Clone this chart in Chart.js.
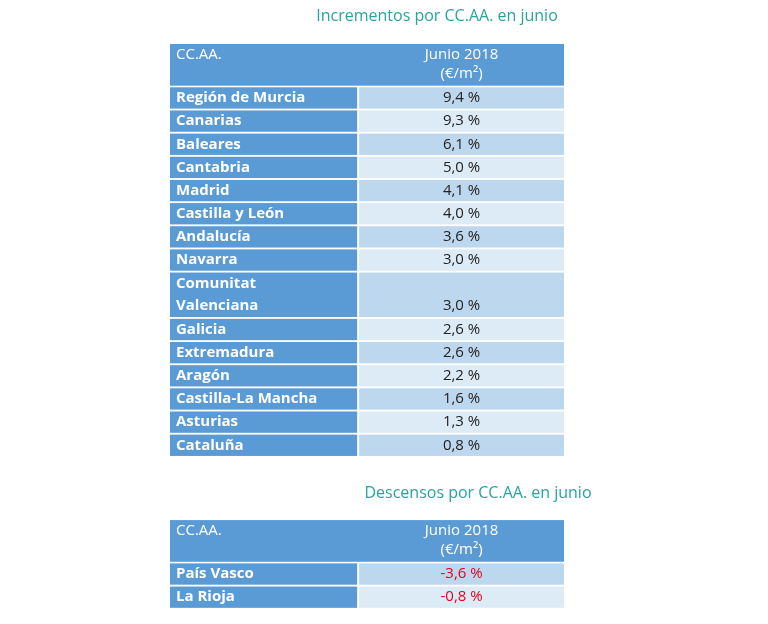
<!DOCTYPE html>
<html><head><meta charset="utf-8">
<script src="https://cdn.jsdelivr.net/npm/chart.js"></script>
<style>html,body{margin:0;padding:0;background:#fff}#wrap{width:768px;height:624px}</style>
</head><body><div id="wrap"><canvas id="c"></canvas></div>
<script>
const title1 = "Incrementos por CC.AA. en junio";
const title2 = "Descensos por CC.AA. en junio";
const headerName = "CC.AA.";
const headerValue = ["Junio 2018", "(€/m²)"];
const incNames = [["Región de Murcia"],["Canarias"],["Baleares"],["Cantabria"],["Madrid"],["Castilla y León"],["Andalucía"],["Navarra"],["Comunitat","Valenciana"],["Galicia"],["Extremadura"],["Aragón"],["Castilla-La Mancha"],["Asturias"],["Cataluña"]];
const incValues = [9.4,9.3,6.1,5.0,4.1,4.0,3.6,3.0,3.0,2.6,2.6,2.2,1.6,1.3,0.8];
const decNames = [["País Vasco"],["La Rioja"]];
const decValues = [-3.6,-0.8];

const fmt = v => v.toFixed(1).replace('.', ',') + ' %';
const FONT = '"Open Sans", sans-serif';

function drawTable(ctx, x, y, top, names, values, red) {
  const L = x.getPixelForValue(0), M1 = x.getPixelForValue(0.95), M2 = x.getPixelForValue(0.96), R = x.getPixelForValue(2);
  const hTop = y.getPixelForValue(top), hBot = y.getPixelForValue(top + 1.8);
  ctx.fillStyle = '#5b9bd5';
  ctx.fillRect(L, hTop, R - L, hBot - hTop);
  ctx.fillStyle = '#ffffff';
  ctx.font = '15px ' + FONT;
  ctx.textBaseline = 'middle';
  ctx.textAlign = 'left';
  ctx.fillText(headerName, L + 6, hTop + 11);
  ctx.textAlign = 'center';
  const cx = (M2 + R) / 2;
  ctx.fillText(headerValue[0], cx, hTop + 11);
  ctx.fillText(headerValue[1], cx, hTop + 30);
  let r = top + 1.87;
  names.forEach((nm, i) => {
    const span = nm.length;
    const t = y.getPixelForValue(r), b = y.getPixelForValue(r + span - 0.08);
    ctx.fillStyle = '#5b9bd5';
    ctx.fillRect(L, t, M1 - L, b - t);
    ctx.fillStyle = i % 2 === 0 ? '#bdd7ee' : '#ddebf7';
    ctx.fillRect(M2, t, R - M2, b - t);
    ctx.fillStyle = '#ffffff';
    ctx.font = 'bold 15px ' + FONT;
    ctx.textAlign = 'left';
    const lh = (b - t) / span;
    nm.forEach((line, k) => ctx.fillText(line, L + 6, t + lh * (k + 0.5)));
    ctx.fillStyle = red ? '#e8001c' : '#222222';
    ctx.font = '15px ' + FONT;
    ctx.textAlign = 'center';
    ctx.fillText(fmt(values[i]), cx, t + lh * (span - 0.5));
    r += span;
  });
}

const tablePlugin = {
  id: 'tables',
  afterDraw(chart) {
    const ctx = chart.ctx, x = chart.scales.x, y = chart.scales.y;
    ctx.save();
    ctx.fillStyle = '#2aa3a0';
    ctx.font = '16px ' + FONT;
    ctx.textAlign = 'center';
    ctx.textBaseline = 'middle';
    ctx.fillText(title1, 437, y.getPixelForValue(-1.17));
    ctx.fillText(title2, 478, y.getPixelForValue(19.4));
    drawTable(ctx, x, y, 0, incNames, incValues, false);
    drawTable(ctx, x, y, 20.56, decNames, decValues, true);
    ctx.restore();
  }
};

new Chart(document.getElementById('c'), {
  type: 'scatter',
  data: { datasets: [{ data: [] }] },
  options: {
    responsive: true, maintainAspectRatio: false, animation: false,
    layout: { padding: { left: 170, right: 204, top: 44, bottom: 15 } },
    plugins: { legend: { display: false }, tooltip: { enabled: false } },
    scales: {
      x: { type: 'linear', min: 0, max: 2, display: false },
      y: { type: 'linear', min: 0, max: 24.4, reverse: true, display: false }
    }
  },
  plugins: [tablePlugin]
});
</script></body></html>
